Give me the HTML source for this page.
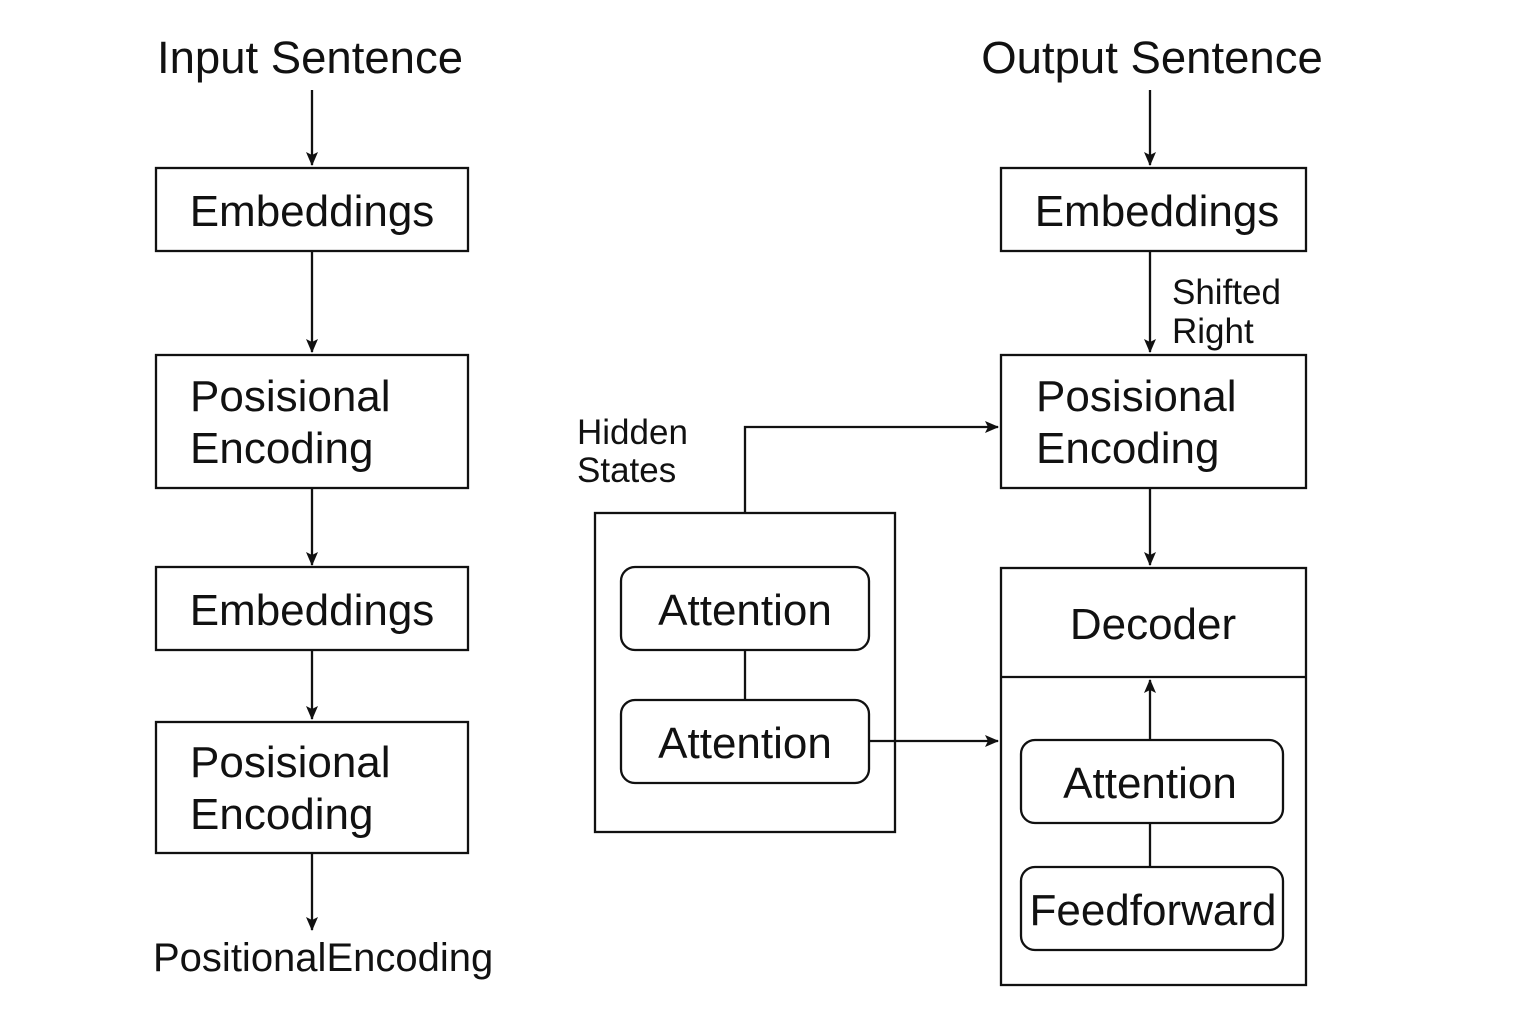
<!DOCTYPE html>
<html><head><style>
html,body{margin:0;padding:0;background:#fff;}
svg{display:block;}
text{font-family:"Liberation Sans",Arial,sans-serif;fill:#111;}
</style></head><body>
<svg width="1536" height="1024" viewBox="0 0 1536 1024" xmlns="http://www.w3.org/2000/svg">
<defs>
<marker id="a" markerWidth="14" markerHeight="14" refX="13" refY="7" orient="auto" markerUnits="userSpaceOnUse">
<path d="M0,1 L14,7 L0,13 L3,7 Z" fill="#111"/>
</marker>
</defs>
<g stroke="#111" stroke-width="2.3" fill="none">
<rect x="156" y="168" width="312" height="83"/>
<rect x="156" y="355" width="312" height="133"/>
<rect x="156" y="567" width="312" height="83"/>
<rect x="156" y="722" width="312" height="131"/>
<line x1="312" y1="90" x2="312" y2="165" marker-end="url(#a)"/>
<line x1="312" y1="251" x2="312" y2="352" marker-end="url(#a)"/>
<line x1="312" y1="488" x2="312" y2="565" marker-end="url(#a)"/>
<line x1="312" y1="650" x2="312" y2="719" marker-end="url(#a)"/>
<line x1="312" y1="853" x2="312" y2="930" marker-end="url(#a)"/>
<rect x="1001" y="168" width="305" height="83"/>
<rect x="1001" y="355" width="305" height="133"/>
<rect x="1001" y="568" width="305" height="417"/>
<line x1="1001" y1="677" x2="1306" y2="677"/>
<rect x="1021" y="740" width="262" height="83" rx="14"/>
<rect x="1021" y="867" width="262" height="83" rx="14"/>
<line x1="1150" y1="823" x2="1150" y2="867"/>
<line x1="1150" y1="740" x2="1150" y2="680" marker-end="url(#a)"/>
<line x1="1150" y1="90" x2="1150" y2="165" marker-end="url(#a)"/>
<line x1="1150" y1="251" x2="1150" y2="352" marker-end="url(#a)"/>
<line x1="1150" y1="488" x2="1150" y2="565" marker-end="url(#a)"/>
<rect x="595" y="513" width="300" height="319"/>
<rect x="621" y="567" width="248" height="83" rx="14"/>
<rect x="621" y="700" width="248" height="83" rx="14"/>
<line x1="745" y1="650" x2="745" y2="700"/>
<polyline points="745,513 745,427 998,427" marker-end="url(#a)"/>
<line x1="869" y1="741" x2="998" y2="741" marker-end="url(#a)"/>
</g>
<g font-size="44">
<text x="310" y="73" text-anchor="middle" font-size="45.5">Input Sentence</text>
<text x="1152" y="73" text-anchor="middle" font-size="45.5">Output Sentence</text>
<text x="312" y="226" text-anchor="middle">Embeddings</text>
<text x="190" y="411">Posisional</text>
<text x="190" y="463">Encoding</text>
<text x="312" y="625" text-anchor="middle">Embeddings</text>
<text x="190" y="777">Posisional</text>
<text x="190" y="829">Encoding</text>
<text x="1157" y="226" text-anchor="middle">Embeddings</text>
<text x="1036" y="411">Posisional</text>
<text x="1036" y="463">Encoding</text>
<text x="1153" y="639" text-anchor="middle">Decoder</text>
<text x="1150" y="798" text-anchor="middle">Attention</text>
<text x="1153" y="925" text-anchor="middle">Feedforward</text>
<text x="745" y="625" text-anchor="middle">Attention</text>
<text x="745" y="758" text-anchor="middle">Attention</text>
</g>
<text x="153" y="971" font-size="40">PositionalEncoding</text>
<g font-size="35">
<text x="1172" y="304">Shifted</text>
<text x="1172" y="343">Right</text>
<text x="577" y="444">Hidden</text>
<text x="577" y="482">States</text>
</g>
</svg>
</body></html>
